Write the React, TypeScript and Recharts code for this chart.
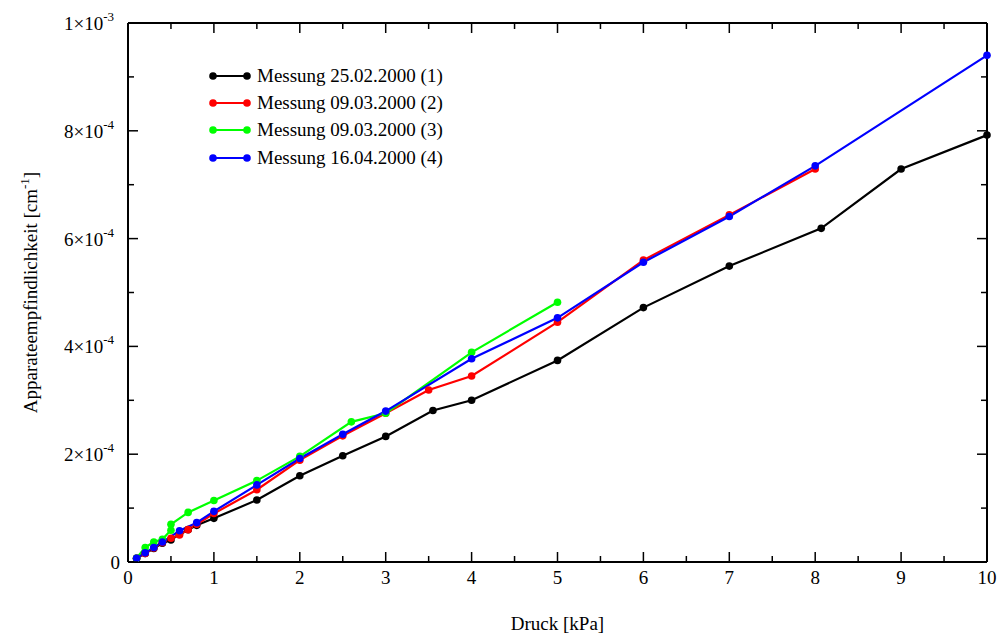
import React from 'react';
import { LineChart, Line, XAxis, YAxis, Legend, ReferenceLine } from 'recharts';

// Druck in kPa, Werte in 1e-4 cm^-1
const druck1 = [0.1, 0.2, 0.3, 0.4, 0.5, 0.6, 0.7, 0.8, 1.0, 1.5, 2.0, 2.5, 3.0, 3.55, 4.0, 5.0, 6.0, 7.0, 8.07, 9.0, 10.0];
const wert1 = [0.07, 0.16, 0.25, 0.35, 0.41, 0.52, 0.6, 0.68, 0.81, 1.15, 1.6, 1.97, 2.33, 2.81, 3.0, 3.74, 4.72, 5.49, 6.19, 7.29, 7.92];

const druck2 = [0.1, 0.2, 0.3, 0.4, 0.5, 0.6, 0.7, 0.8, 1.0, 1.5, 2.0, 2.5, 3.0, 3.5, 4.0, 5.0, 6.0, 7.0, 8.0];
const wert2 = [0.07, 0.16, 0.26, 0.36, 0.44, 0.5, 0.6, 0.7, 0.9, 1.34, 1.89, 2.34, 2.76, 3.19, 3.45, 4.45, 5.6, 6.44, 7.29];

const druck3 = [0.1, 0.2, 0.3, 0.4, 0.5, 0.5, 0.7, 1.0, 1.5, 2.0, 2.6, 3.0, 4.0, 5.0];
const wert3 = [0.07, 0.27, 0.37, 0.42, 0.59, 0.7, 0.92, 1.14, 1.51, 1.96, 2.6, 2.76, 3.89, 4.82];

const druck4 = [0.1, 0.2, 0.3, 0.4, 0.6, 0.8, 1.0, 1.5, 2.0, 2.5, 3.0, 4.0, 5.0, 6.0, 7.0, 8.0, 10.0];
const wert4 = [0.07, 0.17, 0.27, 0.37, 0.58, 0.73, 0.94, 1.43, 1.92, 2.37, 2.8, 3.77, 4.53, 5.56, 6.41, 7.35, 9.4];

const seriesNames = ['Messung 25.02.2000 (1)', 'Messung 09.03.2000 (2)', 'Messung 09.03.2000 (3)', 'Messung 16.04.2000 (4)'];
const seriesColors = ['#000000', '#ff0000', '#00ff00', '#0000ff'];

const xTicks = [0, 0.5, 1, 1.5, 2, 2.5, 3, 3.5, 4, 4.5, 5, 5.5, 6, 6.5, 7, 7.5, 8, 8.5, 9, 9.5, 10];
const yTicks = [0, 1, 2, 3, 4, 5, 6, 7, 8, 9, 10];

const FONT = '"Liberation Serif", "DejaVu Serif", serif';

const zip = (xs: number[], ys: number[]) => xs.map((x, i) => ({ druck: x, wert: ys[i] }));
const series = [zip(druck1, wert1), zip(druck2, wert2), zip(druck3, wert3), zip(druck4, wert4)];

const isMajorX = (v: number) => Number.isInteger(v);
const isMajorY = (v: number) => v % 2 === 0;
const innerX = xTicks.filter((v) => v > 0 && v < 10);
const innerY = yTicks.filter((v) => v > 0 && v < 10);

const BottomTick = (props: any) => {
  const { x, y, payload } = props;
  const v = payload.value;
  const major = isMajorX(v);
  return (
    <g>
      <line x1={x} x2={x} y1={y} y2={y - (major ? 10 : 6)} stroke="#000" strokeWidth={1.5} />
      {major && (
        <text x={x} y={y + 22} textAnchor="middle" fontSize={19} fontFamily={FONT} fill="#000">
          {v}
        </text>
      )}
    </g>
  );
};

const LeftTick = (props: any) => {
  const { x, y, payload } = props;
  const v = payload.value;
  const major = isMajorY(v);
  let label: React.ReactNode = null;
  if (major) {
    if (v === 0) label = '0';
    else if (v === 10) label = (<>1×10<tspan dy={-9} fontSize={13}>-3</tspan></>);
    else label = (<>{v}×10<tspan dy={-9} fontSize={13}>-4</tspan></>);
  }
  return (
    <g>
      <line x1={x} x2={x + (major ? 10 : 6)} y1={y} y2={y} stroke="#000" strokeWidth={1.5} />
      {major && (
        <text x={v === 0 ? x - 8 : x - 14} y={y + 7} textAnchor="end" fontSize={19} fontFamily={FONT} fill="#000">
          {label}
        </text>
      )}
    </g>
  );
};

// short inward tick on the top edge, x taken from the reference line
const topTickShape = (len: number) => (p: any) => {
  const yTop = Math.min(p.y1, p.y2);
  return <line x1={p.x1} x2={p.x1} y1={yTop} y2={yTop + len} stroke="#000" strokeWidth={1.5} />;
};

// short inward tick on the right edge
const rightTickShape = (len: number) => (p: any) => {
  const xRight = Math.max(p.x1, p.x2);
  return <line x1={xRight} x2={xRight - len} y1={p.y1} y2={p.y1} stroke="#000" strokeWidth={1.5} />;
};

const XLabel = (props: any) => {
  const { viewBox } = props;
  return (
    <text x={viewBox.x + viewBox.width / 2} y={630} textAnchor="middle" fontSize={19} fontFamily={FONT} fill="#000">
      Druck [kPa]
    </text>
  );
};

const YLabel = (props: any) => {
  const { viewBox } = props;
  const cx = 37;
  const cy = viewBox.y + viewBox.height / 2;
  return (
    <text x={cx} y={cy} transform={`rotate(-90 ${cx} ${cy})`} textAnchor="middle" fontSize={19} fontFamily={FONT} fill="#000">
      Apparateempfindlichkeit [cm<tspan dy={-8} fontSize={13}>-1</tspan><tspan dy={8}>]</tspan>
    </text>
  );
};

const LegendBox = () => (
  <div style={{ fontFamily: FONT, fontSize: 19, color: '#000' }}>
    {seriesNames.map((name, i) => (
      <div key={name} style={{ display: 'flex', alignItems: 'center', height: 27.3 }}>
        <svg width={52} height={12}>
          <line x1={8} x2={42} y1={6} y2={6} stroke={seriesColors[i]} strokeWidth={2.2} />
          <circle cx={8} cy={6} r={3.8} fill={seriesColors[i]} />
          <circle cx={42} cy={6} r={3.8} fill={seriesColors[i]} />
        </svg>
        <span style={{ whiteSpace: 'nowrap' }}>{name}</span>
      </div>
    ))}
  </div>
);

export default function App() {
  return (
    <div style={{ position: 'absolute', left: 0, top: 0, background: '#fff' }}>
      <LineChart width={1005} height={636} margin={{ top: 23, right: 18, bottom: 0, left: 0 }}>
        <XAxis
          dataKey="druck"
          type="number"
          domain={[0, 10]}
          ticks={xTicks}
          interval={0}
          height={74}
          tickSize={0}
          tickMargin={0}
          tickLine={false}
          axisLine={{ stroke: '#000', strokeWidth: 2 }}
          tick={<BottomTick />}
          label={<XLabel />}
        />
        <YAxis
          type="number"
          domain={[0, 10]}
          ticks={yTicks}
          interval={0}
          width={128}
          tickSize={0}
          tickMargin={0}
          tickLine={false}
          axisLine={{ stroke: '#000', strokeWidth: 2 }}
          tick={<LeftTick />}
          label={<YLabel />}
        />
        <Legend
          layout="vertical"
          align="center"
          verticalAlign="middle"
          content={<LegendBox />}
          wrapperStyle={{ left: 205, top: 62, width: 'auto' }}
        />
        {/* closed frame round the plot area */}
        <ReferenceLine y={0} stroke="#000" strokeWidth={2} ifOverflow="visible" />
        <ReferenceLine x={0} stroke="#000" strokeWidth={2} ifOverflow="visible" />
        <ReferenceLine y={10} stroke="#000" strokeWidth={2} ifOverflow="visible" />
        <ReferenceLine x={10} stroke="#000" strokeWidth={2} ifOverflow="visible" />
        {innerX.map((v) => (
          <ReferenceLine key={`tx${v}`} x={v} ifOverflow="visible" shape={topTickShape(isMajorX(v) ? 10 : 6)} />
        ))}
        {innerY.map((v) => (
          <ReferenceLine key={`ry${v}`} y={v} ifOverflow="visible" shape={rightTickShape(isMajorY(v) ? 10 : 6)} />
        ))}
        {series.map((data, i) => (
          <Line
            key={seriesNames[i]}
            data={data}
            dataKey="wert"
            name={seriesNames[i]}
            stroke={seriesColors[i]}
            strokeWidth={2.2}
            dot={{ r: 3.8, fill: seriesColors[i], stroke: seriesColors[i], strokeWidth: 0 }}
            activeDot={false}
            isAnimationActive={false}
          />
        ))}
      </LineChart>
    </div>
  );
}
